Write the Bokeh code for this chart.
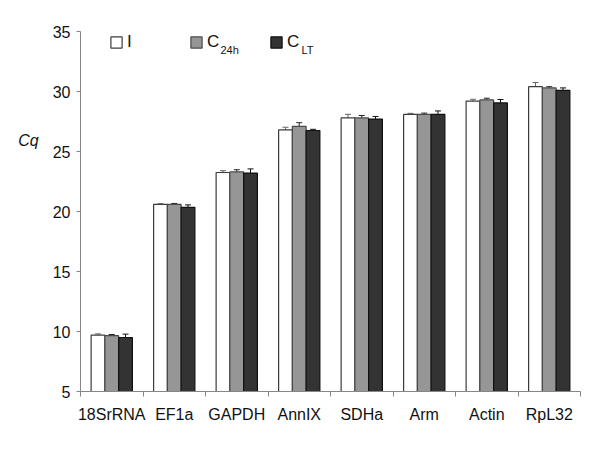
from bokeh.plotting import figure
from bokeh.models import (ColumnDataSource, Range1d, FixedTicker, Whisker, TeeHead,
                          Legend, LegendItem, Label)
from bokeh.embed import file_html
from bokeh.resources import INLINE

genes = ["18SrRNA", "EF1a", "GAPDH", "AnnIX", "SDHa", "Arm", "Actin", "RpL32"]
series = ["I", "C24h", "CLT"]
cq_I = [9.7, 20.6, 23.25, 26.8, 27.8, 28.1, 29.2, 30.4]
cq_C24h = [9.65, 20.6, 23.3, 27.1, 27.8, 28.1, 29.3, 30.3]
cq_CLT = [9.5, 20.35, 23.2, 26.75, 27.7, 28.1, 29.05, 30.1]
err_I = [0.1, 0.05, 0.15, 0.22, 0.3, 0.08, 0.15, 0.35]
err_C24h = [0.1, 0.07, 0.18, 0.3, 0.2, 0.1, 0.14, 0.1]
err_CLT = [0.28, 0.2, 0.35, 0.1, 0.22, 0.28, 0.28, 0.2]
y_ticks = [5, 10, 15, 20, 25, 30, 35]

FONT = "Liberation Sans"
AX = "#868686"

p = figure(width=592, height=442, output_backend="svg", toolbar_location=None,
           x_range=Range1d(0, len(genes)), y_range=Range1d(5, 35),
           min_border_left=80, min_border_right=12, min_border_top=31,
           min_border_bottom=51)
p.outline_line_color = None
p.grid.visible = False
p.background_fill_color = "white"

bw = 0.22
styles = [("#ffffff", "#3c3c3c", "#666666"),
          ("#969696", "#4a4a4a", "#222222"),
          ("#333333", "#111111", "#111111")]
vals = [cq_I, cq_C24h, cq_CLT]
errs = [err_I, err_C24h, err_CLT]
renderers = []
for k, (v, e, (fc, lc, ec)) in enumerate(zip(vals, errs, styles)):
    xs = [i + 0.5 + (k - 1) * bw for i in range(len(genes))]
    src = ColumnDataSource(dict(x=xs, top=v,
                                up=[a + b for a, b in zip(v, e)],
                                lo=[a - b for a, b in zip(v, e)]))
    r = p.vbar(x="x", top="top", bottom=5, width=bw, source=src,
               fill_color=fc, line_color=lc, line_width=1.2)
    renderers.append(r)
    w = Whisker(base="x", upper="up", lower="lo", source=src, dimension="height",
                line_color=ec, line_width=1,
                upper_head=TeeHead(size=6, line_color=ec, line_width=1),
                lower_head=TeeHead(size=6, line_color=ec, line_width=1))
    p.add_layout(w)

# x axis: labels at category centres, tick marks at boundaries
xa = p.xaxis[0]
xa.ticker = FixedTicker(ticks=[i + 0.5 for i in range(len(genes))],
                        minor_ticks=list(range(len(genes) + 1)))
xa.major_label_overrides = {i + 0.5: g for i, g in enumerate(genes)}
xa.major_tick_in = 0
xa.major_tick_out = 0
xa.minor_tick_in = 0
xa.minor_tick_out = 5
xa.minor_tick_line_color = AX
xa.axis_line_color = AX
xa.major_label_standoff = 9
xa.major_label_text_font = FONT
xa.major_label_text_font_size = "16px"
xa.major_label_text_color = "#111111"

ya = p.yaxis[0]
ya.ticker = FixedTicker(ticks=y_ticks)
ya.major_tick_in = 0
ya.major_tick_out = 4
ya.minor_tick_line_color = None
ya.major_tick_line_color = AX
ya.axis_line_color = AX
ya.major_label_standoff = 6
ya.major_label_text_font = FONT
ya.major_label_text_font_size = "16px"
ya.major_label_text_color = "#111111"
ya.axis_label = "Cq\n\n\n\n\n\n\n"
ya.axis_label_orientation = "horizontal"
ya.axis_label_standoff = 11
ya.axis_label_text_font = FONT
ya.axis_label_text_font_size = "16px"
ya.axis_label_text_font_style = "italic"
ya.axis_label_text_color = "#111111"

legend = Legend(items=[LegendItem(label="I", renderers=[renderers[0]]),
                       LegendItem(label="C", renderers=[renderers[1]]),
                       LegendItem(label="C", renderers=[renderers[2]])],
                orientation="horizontal", location=(29, 339),
                glyph_width=14, glyph_height=14, label_width=40,
                label_standoff=4, spacing=22, padding=0, margin=0,
                border_line_color=None, background_fill_alpha=0,
                label_text_font=FONT, label_text_font_size="17px",
                label_text_color="#111111")
p.add_layout(legend, "center")

for txt, x in [("24h", 220), ("LT", 301)]:
    p.add_layout(Label(x=x, y=49, x_units="canvas", y_units="canvas", text=txt,
                       text_font=FONT, text_font_size="11px", text_color="#111111",
                       text_baseline="alphabetic"))

open("out.html", "w").write(file_html(p, INLINE))
